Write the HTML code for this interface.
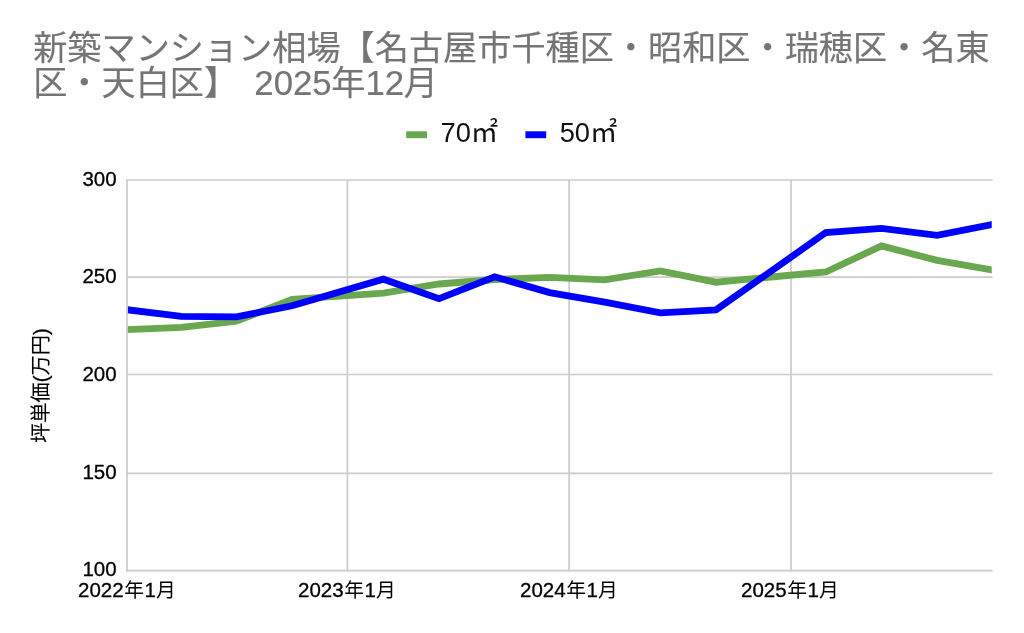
<!DOCTYPE html>
<html lang="ja">
<head>
<meta charset="utf-8">
<title>新築マンション相場</title>
<style>
html,body{margin:0;padding:0;background:#fff;}
body{width:1024px;height:633px;overflow:hidden;}
svg{display:block;}
text{font-family:"Liberation Sans","Noto Sans CJK JP",sans-serif;}
.title{font-size:34.17px;fill:#757575;stroke:#757575;stroke-width:0.15px;}
.legend{font-size:27.3px;fill:#111;}
.axis{font-size:20.5px;fill:#000;stroke:#000;stroke-width:0.3px;}
.c{stroke:none;font-size:19.8px;}
.d{stroke-width:0.1px;font-size:20.2px;}
</style>
</head>
<body>
<svg width="1024" height="633" viewBox="0 0 1024 633">
<defs><clipPath id="ca"><rect x="127.9" y="180" width="863.8" height="391"/></clipPath></defs>
<rect width="1024" height="633" fill="#fff"/>
<text class="title" x="33.2" y="60.4">新築マンション相場【名古屋市千種区・昭和区・瑞穂区・名東</text>
<text class="title" x="33.2" y="95">区・天白区】<tspan x="254.3" font-size="34.8">2025</tspan><tspan dx="-0.5">年</tspan><tspan font-size="34.8">12</tspan><tspan dx="-0.3">月</tspan></text>
<rect x="406.2" y="131.3" width="20.8" height="6.9" fill="#6aa84f"/>
<text class="legend" x="440.5" y="142">70㎡</text>
<rect x="525.4" y="131.3" width="20.8" height="6.9" fill="#0000ff"/>
<text class="legend" x="559.7" y="142">50㎡</text>
<g stroke="#cccccc" stroke-width="1.7" fill="none">
<path d="M126.15 180H992.5M126.15 277.15H992.5M126.15 374.5H992.5M126.15 473.3H992.5M126.15 570.55H992.5"/>
<path d="M127 180V571.4M347.4 180V571.4M569.1 180V571.4M791.05 180V571.4"/>
</g>
<g class="axis" text-anchor="end">
<text x="116.6" y="185.9">300</text>
<text x="116.6" y="282.9">250</text>
<text x="116.6" y="380.9">200</text>
<text x="116.6" y="479.1">150</text>
<text x="116.6" y="576.3">100</text>
</g>
<g class="axis" text-anchor="start">
<text x="78" y="597">2022<tspan class="c" dx="0.6">年</tspan><tspan dx="0.6">1</tspan><tspan class="c">月</tspan></text>
<text x="298" y="597">2023<tspan class="c" dx="0.6">年</tspan><tspan dx="0.6">1</tspan><tspan class="c">月</tspan></text>
<text x="520" y="597">2024<tspan class="c" dx="0.6">年</tspan><tspan dx="0.6">1</tspan><tspan class="c">月</tspan></text>
<text x="741" y="597">2025<tspan class="c" dx="0.6">年</tspan><tspan dx="0.6">1</tspan><tspan class="c">月</tspan></text>
</g>
<text class="axis" transform="translate(48.4,385.6) rotate(-90)" text-anchor="middle"><tspan class="d">坪単価</tspan>(<tspan class="d">万円</tspan>)</text>
<g clip-path="url(#ca)"><polyline fill="none" stroke="#6aa84f" stroke-width="6.83" points="117.0,330.14 127.0,329.70 181.4,327.30 236.4,321.10 292.1,299.40 383.4,293.20 439.0,284.00 494.7,279.50 549.7,277.30 604.7,279.80 660.3,270.85 716.0,282.20 771.0,277.00 825.8,272.00 881.5,245.90 937.2,260.40 991.7,269.90 1001.7,271.63"/>
<polyline fill="none" stroke="#0000ff" stroke-width="6.83" points="117.0,308.55 127.0,309.75 181.4,316.30 236.4,316.85 292.1,305.80 383.4,279.20 439.0,298.60 494.7,276.80 549.7,292.60 604.7,302.20 660.3,312.90 716.0,309.80 771.0,271.30 825.8,232.50 881.5,228.40 937.2,235.40 991.7,224.60 1001.7,222.64"/></g>
</svg>
</body>
</html>
